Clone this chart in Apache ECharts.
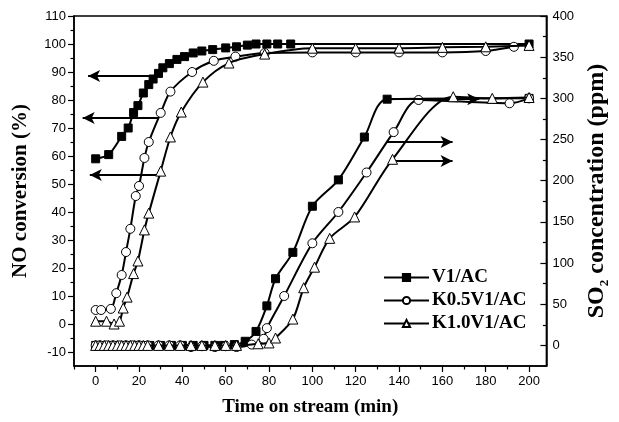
<!DOCTYPE html>
<html>
<head>
<meta charset="utf-8">
<script src="https://cdn.jsdelivr.net/npm/echarts@6/dist/echarts.min.js"></script>
<style>
html, body { margin: 0; padding: 0; background: #fff; }
#panel { width: 619px; height: 422px; }
</style>
</head>
<body>
<div id="panel"></div>
<script>
// sample names
var names = ['V1/AC', 'K0.5V1/AC', 'K1.0V1/AC'];

// NO conversion (%) vs time (min)
var noV1 = [[0,59],[6,60.5],[12,67],[15,70],[17.5,75.5],[19.5,78],[22,82.5],[24.5,85.5],[26.5,87.5],[29,89.5],[31,91.5],[34,93],[37.5,94.5],[41,95.5],[45,96.8],[49,97.5],[54,98],[60,98.6],[65,99],[70,99.6],[74,100],[79,100],[84,100],[90,100],[200,100]];
var noK05 = [[0,5],[2.5,5],[7,5.4],[9.5,11],[12,17.5],[14,25.7],[16,34],[18.5,45.7],[20,49.3],[22.5,59.3],[24.5,65],[30,75.4],[34.5,83],[44.5,90],[54.5,94],[64.5,95.5],[78,96.8],[100,97],[120,97],[140,97],[160,97],[180,97.5],[193,99]];
var noK10 = [[0,1],[5,1],[8.5,0],[11,1],[12.7,5.7],[14.5,9.6],[17.5,18],[19.5,22.5],[22.5,33.6],[24.5,39.6],[30,54.6],[34.5,66.8],[39.5,75.7],[49.5,86.4],[61.5,93.2],[78,96.4],[100,98.5],[120,98.5],[140,98.5],[160,98.8],[180,99],[200,99.5]];

// SO2 concentration (ppm) vs time (min)
var so2V1 = [[0,0],[3,0],[6,0],[9,0],[12,0],[15,0],[18,0],[21,0],[25,0],[30,0],[35,0],[40,0],[45,0],[50,0],[55,0],[59,0],[64,1],[69,5],[74,17],[79,48],[83,81],[91,113],[100,169],[112,201],[124,253],[134.5,299],[200,300]];
var so2K05 = [[0,0],[2,0],[5,0],[8,0],[11,0],[14,0],[17,0],[20,0],[24,0],[29,0],[34,0],[39,0],[44,-2],[49,-1],[55,-2],[60,-1],[65,-2],[72,1],[77.5,8],[79,21],[87,60],[100,124],[112,162],[125,210],[137.5,259],[149,298],[191,294],[200,300]];
var so2K10 = [[0,0],[2,0],[4,0],[6,0],[8,0],[10,0],[12,0],[14,0],[16,0],[18,0],[20,0],[22,0],[24,0],[29,0],[34,0],[39,0],[44,0],[49,0],[55,0],[60,0],[65,0],[75,2],[80,3],[83,9],[91,32],[96,70],[101,95],[108,130],[119.5,156],[137,226],[165,302],[183,300],[200,301]];

// annotation arrows [fromX, fromY, toX, toY]
var noArrows = [[27.5,88.6,-3.5,88.6],[29,73.6,-6,73.6],[30,53.2,-2.7,53.2]];
var so2Arrows = [[134.5,299,177,299],[134.4,247,164.7,247],[138.5,224,164.7,224]];

// ticks
var xMajor = [0,20,40,60,80,100,120,140,160,180,200];
var xMinor = [-10,10,30,50,70,90,110,130,150,170,190];
var leftMajor = [-10,0,10,20,30,40,50,60,70,80,90,100,110];
var leftMinor = [-5,5,15,25,35,45,55,65,75,85,95,105];
var rightMajor = [0,50,100,150,200,250,300,350,400];
var rightMinor = [25,75,125,175,225,275,325,375];

var symbols = ['rect', 'circle', 'triangle'];
var symbolSizes = [8, 9, 10];
var fills = ['#000', '#fff', '#fff'];

var serif = '"Liberation Serif", "Times New Roman", serif';
var sans = '"Liberation Sans", Arial, sans-serif';

function arrowLines(list) {
    return list.map(function (a) {
        return [{ coord: [a[0], a[1]] }, { coord: [a[2], a[3]] }];
    });
}

function makeSeries(name, i, data, yIdx, arrows) {
    var s = {
        name: name,
        type: 'line',
        yAxisIndex: yIdx,
        data: data,
        smooth: 0.3,
        symbol: symbols[i],
        symbolSize: symbolSizes[i],
        showAllSymbol: true,
        lineStyle: { color: '#000', width: 2 },
        itemStyle: { color: fills[i], borderColor: '#000', borderWidth: 1 },
        z: 3 + i
    };
    if (arrows) {
        s.markLine = {
            silent: true,
            symbol: ['none', 'arrow'],
            symbolSize: [9, 12],
            label: { show: false },
            lineStyle: { color: '#000', width: 2, type: 'solid' },
            data: arrowLines(arrows)
        };
    }
    return s;
}

function valueAxis(extra) {
    var base = {
        type: 'value',
        splitLine: { show: false },
        axisLine: { show: true, onZero: false, lineStyle: { color: '#000', width: 1.5 } },
        axisLabel: { color: '#000', fontFamily: sans, fontSize: 13 },
        axisTick: { lineStyle: { color: '#000', width: 1.2 } }
    };
    for (var k in extra) {
        if (typeof extra[k] === 'object' && base[k] && !Array.isArray(extra[k])) {
            base[k] = Object.assign({}, base[k], extra[k]);
        } else {
            base[k] = extra[k];
        }
    }
    return base;
}

chartDom = document.getElementById('panel');
myChart = echarts.init(chartDom);

var series = [
    makeSeries(names[0], 0, noV1, 0, noArrows),
    makeSeries(names[1], 1, noK05, 0),
    makeSeries(names[2], 2, noK10, 0),
    makeSeries(names[0], 0, so2V1, 1, so2Arrows),
    makeSeries(names[1], 1, so2K05, 1),
    makeSeries(names[2], 2, so2K10, 1)
];

myChart.setOption({
    animation: false,
    backgroundColor: '#fff',
    grid: { left: 74, right: 64, top: 16, bottom: 55, show: true, borderColor: '#000', borderWidth: 1.5 },
    legend: {
        data: names,
        orient: 'vertical',
        left: 378,
        top: 263,
        itemWidth: 45,
        itemHeight: 9,
        itemGap: 4,
        textStyle: { fontFamily: serif, fontWeight: 'bold', fontSize: 19, color: '#000', padding: [0, 0, 0, -2] }
    },
    xAxis: [
        valueAxis({
            min: -10, max: 208,
            name: 'Time on stream (min)',
            nameLocation: 'middle',
            nameGap: 32,
            nameTextStyle: { fontFamily: serif, fontWeight: 'bold', fontSize: 19, color: '#000' },
            axisLabel: { customValues: xMajor, margin: 9 },
            axisTick: { customValues: xMajor, length: 6 }
        }),
        valueAxis({
            min: -10, max: 208, position: 'bottom',
            axisLine: { show: false },
            axisLabel: { show: false },
            axisTick: { customValues: xMinor, length: 3.5 }
        })
    ],
    yAxis: [
        valueAxis({
            min: -15, max: 110, position: 'left',
            name: 'NO conversion (%)',
            nameLocation: 'middle',
            nameRotate: 90,
            nameGap: 43,
            nameTextStyle: { fontFamily: serif, fontWeight: 'bold', fontSize: 21, color: '#000' },
            axisLabel: { customValues: leftMajor, margin: 8 },
            axisTick: { customValues: leftMajor, length: 6 }
        }),
        valueAxis({
            min: -25, max: 400, position: 'right',
            name: '{b|SO}{s|2}{b| concentration (ppm)}',
            nameLocation: 'middle',
            nameRotate: 90,
            nameGap: 34,
            nameTextStyle: {
                rich: {
                    b: { fontFamily: serif, fontWeight: 'bold', fontSize: 24, color: '#000', lineHeight: 28 },
                    s: { fontFamily: serif, fontWeight: 'bold', fontSize: 13, color: '#000', verticalAlign: 'bottom', lineHeight: 13 }
                }
            },
            axisLabel: { customValues: rightMajor, margin: 6 },
            axisTick: { customValues: rightMajor, length: 6, inside: true }
        }),
        valueAxis({
            min: -15, max: 110, position: 'left',
            axisLine: { show: false },
            axisLabel: { show: false },
            axisTick: { customValues: leftMinor, length: 3.5 }
        }),
        valueAxis({
            min: -25, max: 400, position: 'right',
            axisLine: { show: false },
            axisLabel: { show: false },
            axisTick: { customValues: rightMinor, length: 3.5, inside: true }
        })
    ],
    series: series
});
</script>
</body>
</html>
